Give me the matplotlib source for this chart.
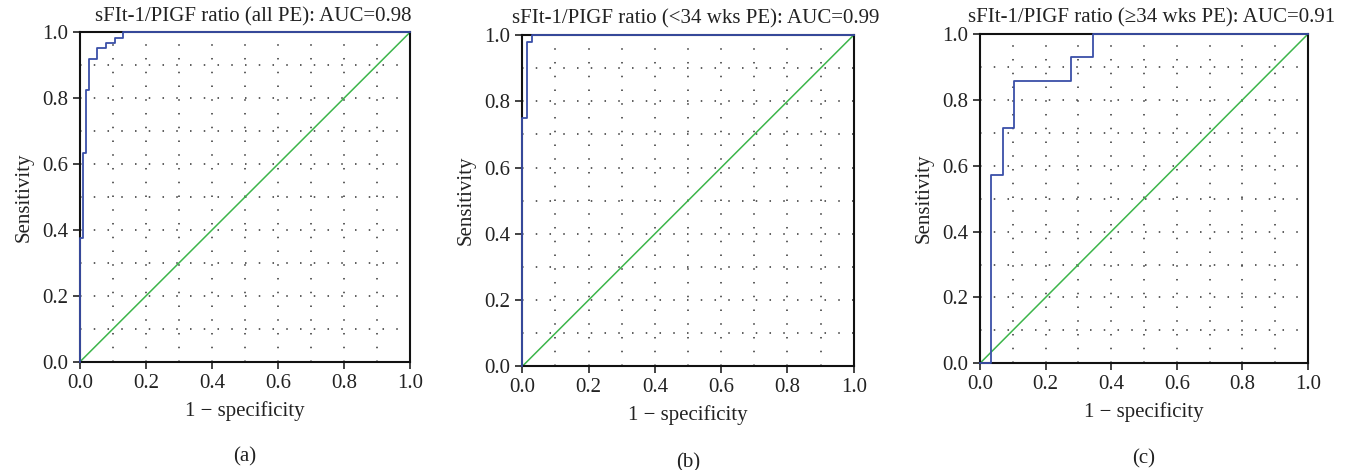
import matplotlib
matplotlib.use("Agg")
import matplotlib.pyplot as plt
import numpy as np

plt.rcParams['font.family'] = ['Liberation Serif', 'DejaVu Serif']

# ROC step curves (1 - specificity, sensitivity)
fpr_all = [0.0, 0.0, 0.009, 0.009, 0.019, 0.019, 0.027, 0.027, 0.05, 0.05,
           0.08, 0.08, 0.107, 0.107, 0.13, 0.13, 1.0]
tpr_all = [0.0, 0.375, 0.375, 0.633, 0.633, 0.824, 0.824, 0.92, 0.92, 0.951,
           0.951, 0.968, 0.968, 0.984, 0.984, 1.0, 1.0]

fpr_early = [0.0, 0.0, 0.013, 0.013, 0.028, 0.028, 1.0]
tpr_early = [0.0, 0.75, 0.75, 0.98, 0.98, 1.0, 1.0]

fpr_late = [0.0, 0.034, 0.034, 0.069, 0.069, 0.103, 0.103, 0.276, 0.276,
            0.345, 0.345, 1.0]
tpr_late = [0.0, 0.0, 0.571, 0.571, 0.714, 0.714, 0.857, 0.857, 0.929,
            0.929, 1.0, 1.0]

titles = ["sFIt-1/PIGF ratio (all PE): AUC=0.98",
          "sFIt-1/PIGF ratio (<34 wks PE): AUC=0.99",
          "sFIt-1/PIGF ratio (\u226534 wks PE): AUC=0.91"]
panel_tags = ["(a)", "(b)", "(c)"]
curves = [(fpr_all, tpr_all), (fpr_early, tpr_early), (fpr_late, tpr_late)]

# axes boxes in figure fractions [left, bottom, width, height]
boxes = [[0.0593, 0.2304, 0.2444, 0.7009],
         [0.3869, 0.2206, 0.2455, 0.7049],
         [0.7259, 0.2270, 0.2430, 0.7007]]

fig = plt.figure(figsize=(13.5, 4.7), dpi=100)

for box, (fx, fy), title, tag in zip(boxes, curves, titles, panel_tags):
    ax = fig.add_axes(box)
    ax.set_xlim(0, 1)
    ax.set_ylim(0, 1)
    ticks = np.arange(0, 1.01, 0.2)
    ax.set_xticks(ticks)
    ax.set_yticks(ticks)
    ax.set_xticklabels([f"{t:.1f}" for t in ticks])
    ax.set_yticklabels([f"{t:.1f}" for t in ticks])
    ax.tick_params(direction='out', length=5, width=1.2, labelsize=15,
                   colors='#222222')
    for g in np.arange(0.1, 1.0, 0.1):
        ax.axhline(g, color='0.2', lw=1.1, ls=(0, (1, 8)), zorder=0)
        ax.axvline(g, color='0.2', lw=1.1, ls=(0, (1, 8)), zorder=0)
    for s in ax.spines.values():
        s.set_linewidth(1.5)
        s.set_color('#111111')
    ax.plot([0, 1], [0, 1], color='#3cb54a', lw=1.1, zorder=2)
    ax.plot(fx, fy, color='#3a4fa8', lw=1.3, zorder=3, clip_on=False)
    ax.set_title(title, fontsize=15, color='#222222', pad=8, x=0.524)
    ax.set_xlabel("1 \u2212 specificity", fontsize=15, color='#222222',
                  labelpad=6)
    ax.set_ylabel("Sensitivity", fontsize=15, color='#222222', labelpad=6)
    ax.text(0.5, -0.29, tag, transform=ax.transAxes, ha='center',
            va='center', fontsize=15, color='#222222')

fig.savefig("out.png", dpi=100)
